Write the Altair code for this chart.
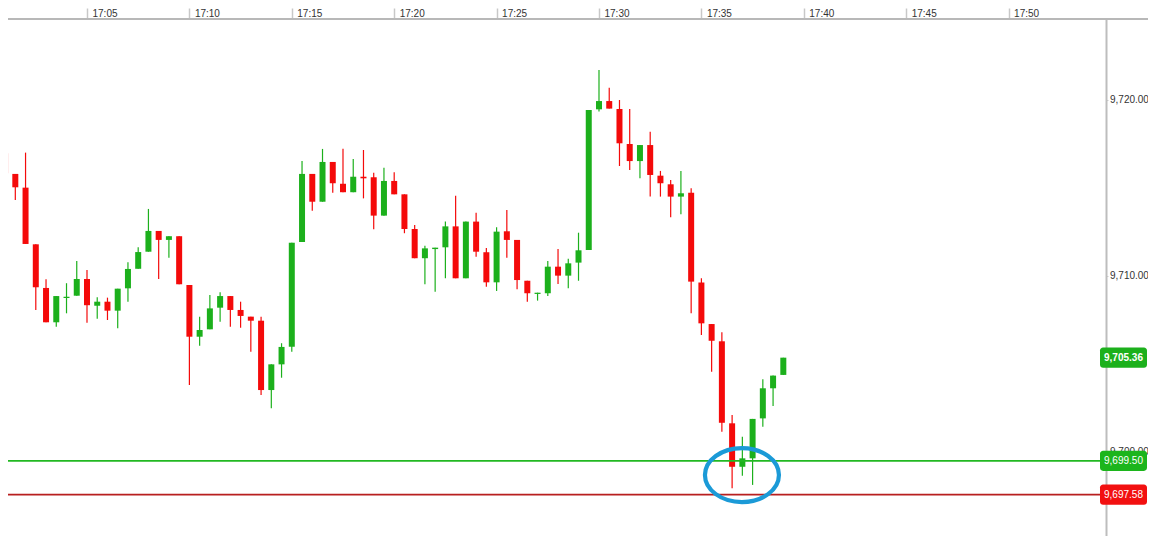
import altair as alt
import pandas as pd

# ---- candle data (30-second bars starting 17:01:00) ----
opens = [9716.97, 9715.80, 9715.02, 9711.80, 9709.32, 9707.37, 9708.75, 9708.88, 9709.83, 9708.31,
         9708.54, 9708.03, 9709.30, 9710.41, 9711.38, 9712.56, 9712.05, 9712.26, 9709.49, 9706.55,
         9706.97, 9708.20, 9708.86, 9708.07, 9707.69, 9707.46, 9703.52, 9704.98, 9705.98, 9711.93,
         9715.80, 9714.22, 9716.48, 9715.24, 9714.76, 9715.64, 9715.61, 9713.43, 9715.40, 9714.64,
         9712.67, 9711.01, 9711.53, 9711.63, 9712.82, 9709.87, 9713.09, 9711.35, 9709.64, 9712.54,
         9712.05, 9709.73, 9708.98, 9709.02, 9710.53, 9710.02, 9710.76, 9711.48, 9719.47, 9719.94,
         9719.49, 9717.50, 9716.53, 9717.44, 9715.70, 9715.21, 9714.51, 9714.73, 9709.63, 9707.27,
         9706.29, 9701.63, 9699.16, 9699.64, 9701.91, 9703.62, 9704.38]
highs = [9717.44, 9715.80, 9717.01, 9711.80, 9709.81, 9708.86, 9709.59, 9710.85, 9710.34, 9708.79,
         9708.77, 9709.28, 9710.78, 9711.63, 9713.81, 9712.56, 9712.26, 9712.26, 9709.49, 9707.69,
         9708.92, 9709.07, 9708.86, 9708.54, 9707.69, 9707.69, 9704.98, 9706.18, 9711.89, 9716.53,
         9715.80, 9717.22, 9716.48, 9717.23, 9716.65, 9717.16, 9715.87, 9716.15, 9715.89, 9714.64,
         9712.90, 9711.72, 9711.61, 9713.09, 9714.56, 9713.09, 9713.60, 9711.59, 9712.77, 9713.75,
         9712.05, 9709.73, 9709.05, 9710.85, 9711.53, 9710.98, 9712.46, 9719.43, 9721.70, 9720.70,
         9720.00, 9719.49, 9717.44, 9718.20, 9715.97, 9715.45, 9715.97, 9714.98, 9709.87, 9707.27,
         9706.80, 9702.10, 9700.87, 9701.88, 9704.13, 9704.34, 9705.36]
lows = [9715.55, 9714.32, 9711.82, 9708.07, 9707.37, 9707.12, 9707.88, 9708.88, 9707.35, 9707.57,
        9707.50, 9707.03, 9708.54, 9710.41, 9711.38, 9709.83, 9711.04, 9709.53, 9703.81, 9706.04,
        9706.97, 9707.40, 9707.12, 9707.06, 9705.70, 9703.24, 9702.48, 9704.22, 9705.70, 9711.93,
        9713.71, 9714.22, 9714.73, 9714.76, 9714.76, 9714.41, 9712.65, 9713.43, 9714.64, 9712.43,
        9711.01, 9709.53, 9709.11, 9709.87, 9709.87, 9709.87, 9711.10, 9709.39, 9709.15, 9711.04,
        9709.24, 9708.54, 9708.60, 9708.86, 9709.55, 9709.30, 9709.73, 9711.48, 9719.34, 9719.51,
        9716.25, 9716.02, 9715.55, 9714.51, 9714.51, 9713.34, 9713.51, 9707.88, 9706.65, 9704.56,
        9701.15, 9697.94, 9698.65, 9698.13, 9701.44, 9702.61, 9704.38]
closes = [9715.84, 9715.04, 9711.82, 9709.36, 9707.37, 9708.86, 9708.82, 9709.83, 9708.34, 9708.54,
          9708.03, 9709.28, 9710.40, 9711.36, 9712.56, 9712.05, 9712.26, 9709.53, 9706.55, 9706.93,
          9708.16, 9708.86, 9708.07, 9707.73, 9707.46, 9703.52, 9704.98, 9705.97, 9711.89, 9715.80,
          9714.22, 9716.48, 9715.27, 9714.76, 9715.64, 9715.55, 9713.43, 9715.40, 9714.64, 9712.67,
          9711.01, 9711.57, 9711.61, 9712.82, 9709.87, 9713.09, 9711.38, 9709.64, 9712.52, 9712.05,
          9709.77, 9709.02, 9709.05, 9710.53, 9710.02, 9710.72, 9711.46, 9719.43, 9719.94, 9719.51,
          9717.54, 9716.53, 9717.44, 9715.74, 9715.27, 9714.51, 9714.70, 9709.68, 9707.31, 9706.32,
          9701.66, 9699.16, 9699.64, 9701.88, 9703.62, 9704.34, 9705.36]
start_minute = 1.0   # first bar at 17:01
bar_minutes = 0.5    # 30-second bars

# ---- axis / annotation values ----
time_ticks = [5, 10, 15, 20, 25, 30, 35, 40, 45, 50]
price_ticks = [9700, 9710, 9720]
x_domain = [1.143, 54.756]
y_domain = [9695.227, 9724.602]

line_prices = [9699.50, 9697.58]
line_colors = ["#22b822", "#b81f1f"]
box_colors = ["#1cb51c", "#f21010"]
level_labels = ["9,699.50", "9,697.58"]
last_price = [9705.36]
last_label = ["9,705.36"]
circle_time = [36.98]
circle_price = [9698.69]

UP, DOWN = "#1cb01c", "#f40a0a"

df = pd.DataFrame({"open": opens, "high": highs, "low": lows, "close": closes})
df["t"] = start_minute + bar_minutes * df.index
df["dir"] = ["up" if c >= o else "down" for o, c in zip(opens, closes)]

FONT = "Liberation Sans"
W, H = 1098, 517
BOX_X = 1115.5


def X(field):
    return alt.X(field, type="quantitative", title=None,
                 scale=alt.Scale(domain=x_domain, nice=False, zero=False, padding=0),
                 axis=alt.Axis(orient="top", values=time_ticks, domain=False,
                               labelExpr="'17:' + (datum.value < 10 ? '0' : '') + datum.value",
                               tickSize=11, tickColor="#c8c8c8", tickWidth=1.5,
                               labelAlign="left", labelBaseline="middle", labelOffset=5,
                               labelPadding=-5, labelFont=FONT, labelFontSize=10,
                               labelColor="#333333", grid=False))


def Y(field):
    return alt.Y(field, type="quantitative", title=None,
                 scale=alt.Scale(domain=y_domain, nice=False, zero=False, padding=0),
                 axis=alt.Axis(orient="right", values=price_ticks, format=",.2f",
                               domain=True, domainColor="#bdbdbd", domainWidth=2,
                               tickSize=2, tickColor="#cccccc", labelPadding=1.5,
                               labelFont=FONT, labelFontSize=10, labelColor="#333333",
                               grid=False))


color = alt.Color("dir:N", scale=alt.Scale(domain=["up", "down"], range=[UP, DOWN]), legend=None)

base = alt.Chart(df)
wicks = base.mark_rule(strokeWidth=1.2).encode(x=X("t"), y=Y("low"), y2="high:Q", color=color)
bodies = base.mark_bar(size=6).encode(x=X("t"), y=Y("open"), y2="close:Q", color=color)

lines_df = pd.DataFrame({"price": line_prices, "c": line_colors, "bc": box_colors,
                         "label": level_labels})
level_lines = alt.Chart(lines_df).mark_rule(strokeWidth=1.8).encode(
    y=Y("price"), x=alt.value(0), x2=alt.value(1093),
    color=alt.Color("c:N", scale=None))

box_path = ("M-0.87,-0.43 L0.87,-0.43 A0.13,0.13 0 0 1 1,-0.30 L1,0.30 "
            "A0.13,0.13 0 0 1 0.87,0.43 L-0.87,0.43 A0.13,0.13 0 0 1 -1,0.30 "
            "L-1,-0.30 A0.13,0.13 0 0 1 -0.87,-0.43 Z")
level_boxes = alt.Chart(lines_df).mark_point(
    shape=box_path, size=47 * 47, filled=True, opacity=1, strokeWidth=0).encode(
    y=Y("price"), x=alt.value(BOX_X), color=alt.Color("bc:N", scale=None))
level_text = alt.Chart(lines_df).mark_text(
    font=FONT, fontSize=10, color="white", align="center", baseline="middle").encode(
    y=Y("price"), x=alt.value(BOX_X), text="label:N")

last_df = pd.DataFrame({"price": last_price, "label": last_label})
last_box = alt.Chart(last_df).mark_point(
    shape=box_path, size=47 * 47, filled=True, opacity=1, strokeWidth=0, color=UP).encode(
    y=Y("price"), x=alt.value(BOX_X))
last_text = alt.Chart(last_df).mark_text(
    font=FONT, fontSize=10, fontWeight="bold", color="white", align="center",
    baseline="middle").encode(y=Y("price"), x=alt.value(BOX_X), text="label:N")

circ_df = pd.DataFrame({"t": circle_time, "price": circle_price})
ellipse = alt.Chart(circ_df).mark_point(
    shape="M-1,0 A1,0.73 0 1,1 1,0 A1,0.73 0 1,1 -1,0 Z", size=74 * 74,
    filled=False, strokeWidth=4.2, color="#1b9ad7", opacity=1).encode(
    x=X("t"), y=Y("price"))

one = pd.DataFrame({"a": [0]})
top_line = alt.Chart(one).mark_rule(color="#b8b8b8", strokeWidth=2).encode(
    x=alt.value(-8), x2=alt.value(1142), y=alt.value(0))

chart = alt.layer(
    wicks, bodies, level_lines, ellipse, top_line,
    level_boxes, level_text, last_box, last_text
).properties(
    width=W, height=H,
    padding={"left": 0, "top": 11, "right": 42, "bottom": 0},
    autosize=alt.AutoSizeParams(type="none"),
    background="white",
).configure_view(stroke=None)

chart.save("out.html", embed_options={"renderer": "svg", "actions": False})
